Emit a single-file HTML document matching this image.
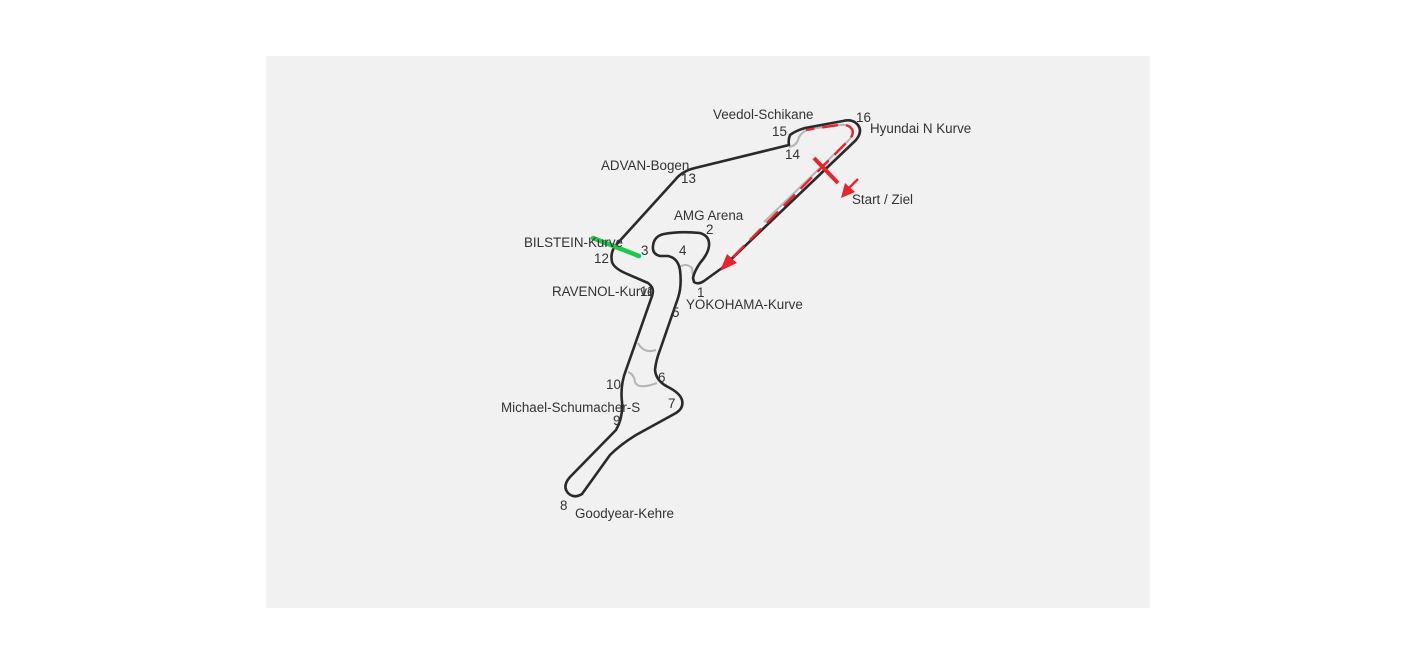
<!DOCTYPE html>
<html><head><meta charset="utf-8"><style>
html,body{margin:0;padding:0;background:#fff;width:1416px;height:664px;overflow:hidden}
svg{position:absolute;left:0;top:0}
text{font-family:"Liberation Sans",sans-serif;font-size:13.4px;fill:#333}
</style></head><body>
<svg width="1416" height="664" viewBox="0 0 1416 664">
<rect x="266" y="56" width="884" height="552" fill="#f1f1f1"/>
<!-- gray connectors -->
<g fill="none" stroke="#b5b5b5" stroke-width="2">
<path d="M764 222 L849 140 Q856 132 850 127 Q846 124 838 125 L810 129 Q800 132 798 140 Q796 146 789 147"/>
<path d="M678 268 Q686 262 692 268 L693 276"/>
<path d="M638 343 Q644 354 656 350"/>
<path d="M628 372 Q634 374 635 382 Q638 390 657 383"/>
</g>
<!-- track -->
<g fill="none" stroke="#2a2a2a" stroke-width="2.6" stroke-linejoin="round" stroke-linecap="round">
<path d="M694 282 Q698 285 704 281 L722 268 L856 140 Q864 130 856 123 Q851 119 843 121 L805 128 Q795 131 790 135 Q788 140 789 145 L695 168 Q682 171 675 180 L616 245 Q610 252 612 262 Q614 268 625 273 L648 283 Q655 288 652 296 L626 370 Q620 385 622 402 Q623 418 616 430 L570 477 Q562 486 568 493 Q574 499 582 494 L610 455 Q620 445 636 435 L676 413 Q684 408 682 400 Q680 393 668 387 Q656 381 655 370 Q656 360 660 350 L678 298 Q682 286 680 270 Q678 258 668 256 L660 256 Q652 254 653 246 Q654 236 664 234 Q680 231 700 233 Q710 236 709 246 Q708 254 700 263 Q694 272 693 278 Z"/>
</g>
<!-- red dashed -->
<path d="M733 257 L849 140 Q856 132 850 127 Q846 124 838 125 L806 130" fill="none" stroke="#e8242c" stroke-width="2.4" stroke-dasharray="16 8"/>
<polygon points="720,271 727,254 737,263" fill="#e8242c"/>
<line x1="814" y1="158" x2="838" y2="183" stroke="#e8242c" stroke-width="4"/>
<line x1="858" y1="179" x2="848" y2="189" stroke="#e8242c" stroke-width="2.4"/>
<polygon points="841,198 845,183 855,192" fill="#e8242c"/>
<line x1="593" y1="238" x2="639" y2="256" stroke="#1dc94a" stroke-width="4.5" stroke-linecap="round"/>
<text x="713" y="119">Veedol-Schikane</text>
<text x="856" y="122">16</text>
<text x="870" y="133">Hyundai N Kurve</text>
<text x="772" y="136">15</text>
<text x="785" y="159">14</text>
<text x="601" y="170">ADVAN-Bogen</text>
<text x="681" y="183">13</text>
<text x="852" y="204">Start / Ziel</text>
<text x="674" y="220">AMG Arena</text>
<text x="706" y="234">2</text>
<text x="524" y="247">BILSTEIN-Kurve</text>
<text x="641" y="255">3</text>
<text x="679" y="255">4</text>
<text x="594" y="263">12</text>
<text x="552" y="296">RAVENOL-Kurve</text>
<text x="640" y="296">11</text>
<text x="697" y="297">1</text>
<text x="686" y="309">YOKOHAMA-Kurve</text>
<text x="672" y="317">5</text>
<text x="658" y="382">6</text>
<text x="606" y="389">10</text>
<text x="668" y="408">7</text>
<text x="501" y="412">Michael-Schumacher-S</text>
<text x="613" y="425">9</text>
<text x="560" y="510">8</text>
<text x="575" y="518">Goodyear-Kehre</text>
</svg>
</body></html>
